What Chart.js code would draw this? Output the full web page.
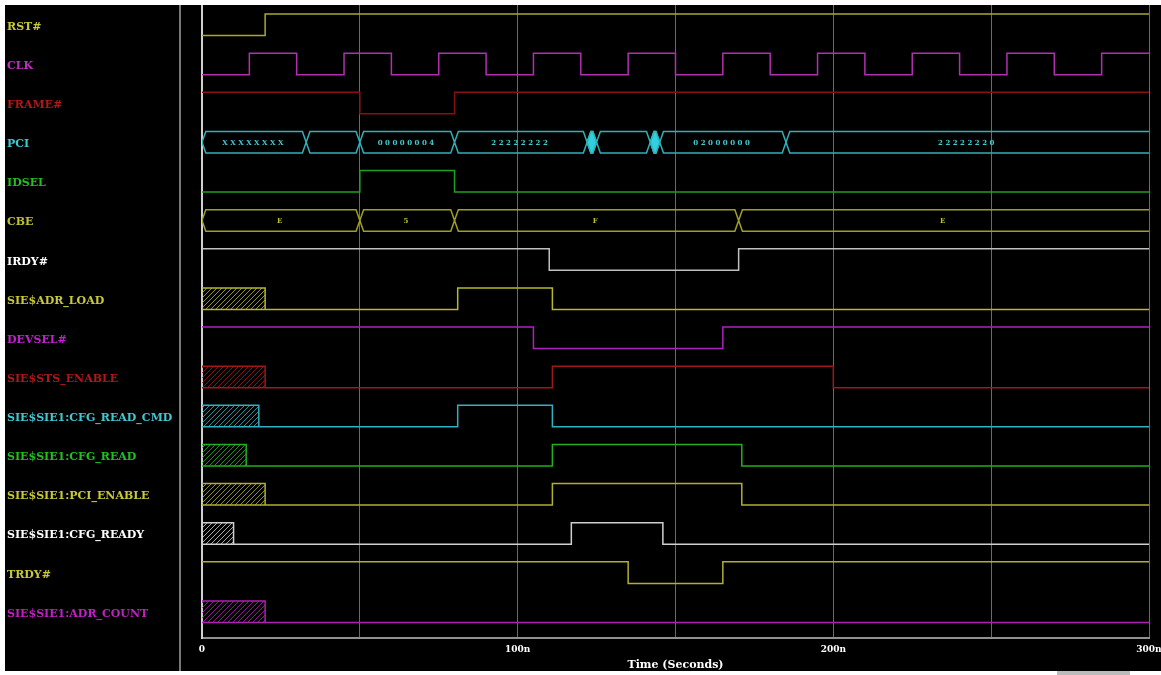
<!DOCTYPE html>
<html>
<head>
<meta charset="utf-8">
<script src="https://cdn.jsdelivr.net/npm/chart.js@4.4.0/dist/chart.umd.min.js"></script>
<style>
html, body { margin: 0; padding: 0; background: #000; }
#wrap { position: relative; width: 1161px; height: 675px; background: #000; overflow: hidden; }
#wave { position: absolute; left: 0; top: 0; }
.strip { position: absolute; background: #fff; }
</style>
</head>
<body>
<div id="wrap">
    <canvas id="wave" width="1161" height="675"></canvas>
    <div class="strip" style="left:0;top:0;width:1161px;height:5px"></div>
    <div class="strip" style="left:0;top:0;width:5px;height:675px"></div>
    <div class="strip" style="left:0;top:671px;width:1161px;height:4px"></div>
    <div style="position:absolute;left:179px;top:5px;width:2px;height:666px;background:#777"></div>
    <div style="position:absolute;left:1057px;top:671px;width:73px;height:4px;background:#bbb"></div>
</div>
<script>
// signal rows, top to bottom
const signalNames = [
    'RST#', 'CLK', 'FRAME#', 'PCI', 'IDSEL', 'CBE', 'IRDY#', 'SIE$ADR_LOAD',
    'DEVSEL#', 'SIE$STS_ENABLE', 'SIE$SIE1:CFG_READ_CMD', 'SIE$SIE1:CFG_READ',
    'SIE$SIE1:PCI_ENABLE', 'SIE$SIE1:CFG_READY', 'TRDY#', 'SIE$SIE1:ADR_COUNT'
];
const lineColors = [
    '#a8a830', '#b030b0', '#8a1010', '#30b0b8', '#20a020', '#a0a020', '#c0c0c0', '#b8b830',
    '#b020c0', '#a01818', '#30b0c0', '#20b020', '#b0b030', '#d0d0d0', '#b0b030', '#b020b0'
];
const labelColors = [
    '#c8c838', '#c030c0', '#b01818', '#40c8d0', '#20c020', '#c0c030', '#ffffff', '#c8c838',
    '#c020d0', '#b01818', '#40c8d0', '#20c020', '#c8c838', '#ffffff', '#c8c838', '#c020c0'
];

// step signals: edge times (ns) and level after each edge (1 = high)
const rstT = [0, 20, 300];              const rstV = [0, 1, 1];
const clkT = [0, 15, 30, 45, 60, 75, 90, 105, 120, 135, 150, 165, 180, 195, 210, 225, 240, 255, 270, 285, 300];
const clkV = [0, 1, 0, 1, 0, 1, 0, 1, 0, 1, 0, 1, 0, 1, 0, 1, 0, 1, 0, 1, 1];
const frameT = [0, 50, 80, 300];        const frameV = [1, 0, 1, 1];
const idselT = [0, 50, 80, 300];        const idselV = [0, 1, 0, 0];
const irdyT = [0, 110, 170, 300];       const irdyV = [1, 0, 1, 1];
const adrLoadT = [0, 81, 111, 300];     const adrLoadV = [0, 1, 0, 0];
const devselT = [0, 105, 165, 300];     const devselV = [1, 0, 1, 1];
const stsEnT = [0, 111, 200, 300];      const stsEnV = [0, 1, 0, 0];
const cfgCmdT = [0, 81, 111, 300];      const cfgCmdV = [0, 1, 0, 0];
const cfgReadT = [0, 111, 171, 300];    const cfgReadV = [0, 1, 0, 0];
const pciEnT = [0, 111, 171, 300];      const pciEnV = [0, 1, 0, 0];
const cfgReadyT = [0, 117, 146, 300];   const cfgReadyV = [0, 1, 0, 0];
const trdyT = [0, 135, 165, 300];       const trdyV = [1, 0, 1, 1];
const adrCountT = [0, 300];             const adrCountV = [0, 0];

// hatched (unknown) span at start of sim: row -> end time
const unknownRows = [7, 9, 10, 11, 12, 13, 15];
const unknownEnd = [20, 20, 18, 14, 20, 10, 20];

// buses
const pciEdges = [0, 33, 50, 80, 122, 125, 142, 145, 185, 300];
const pciValues = ['XXXXXXXX', '', '00000004', '22222222', '', '', '', '02000000', '22222220'];
const pciBusy = [[122, 125], [142, 145]];
const cbeEdges = [0, 50, 80, 170, 300];
const cbeValues = ['E', '5', 'F', 'E'];

const xTickValues = [0, 50, 100, 150, 200, 250, 300];
const xTickLabels = ['0', '', '100n', '', '200n', '', '300n'];

const HI = 0.18, LO = 0.73, MID = 0.455, XW = 1.2;

const steps = [
    [0, rstT, rstV], [1, clkT, clkV], [2, frameT, frameV], [4, idselT, idselV],
    [6, irdyT, irdyV], [7, adrLoadT, adrLoadV], [8, devselT, devselV], [9, stsEnT, stsEnV],
    [10, cfgCmdT, cfgCmdV], [11, cfgReadT, cfgReadV], [12, pciEnT, pciEnV],
    [13, cfgReadyT, cfgReadyV], [14, trdyT, trdyV], [15, adrCountT, adrCountV]
];
const buses = [
    { row: 3, edges: pciEdges, values: pciValues },
    { row: 5, edges: cbeEdges, values: cbeValues }
];

function hatch(color) {
    const c = document.createElement('canvas');
    c.width = 5; c.height = 5;
    const g = c.getContext('2d');
    g.strokeStyle = color;
    g.globalAlpha = 0.8;
    g.lineWidth = 1;
    g.beginPath();
    g.moveTo(0, 5); g.lineTo(5, 0);
    g.moveTo(-1, 1); g.lineTo(1, -1);
    g.moveTo(4, 6); g.lineTo(6, 4);
    g.stroke();
    return g.createPattern(c, 'repeat');
}

function busOutline(row, edges, level) {
    const pts = [{ x: edges[0], y: row + MID }];
    for (let i = 0; i < edges.length - 1; i++) {
        const s = edges[i], e = edges[i + 1];
        pts.push({ x: s + XW, y: row + level });
        if (i === edges.length - 2) {
            pts.push({ x: e, y: row + level });
        } else {
            pts.push({ x: e - XW, y: row + level });
            pts.push({ x: e, y: row + MID });
        }
    }
    return pts;
}

const datasets = [];
steps.forEach(([row, T, V]) => {
    datasets.push({
        data: T.map((t, i) => ({ x: t, y: row + (V[i] ? HI : LO) })),
        borderColor: lineColors[row],
        stepped: true
    });
});
unknownRows.forEach((row, i) => {
    const end = unknownEnd[i];
    datasets.push({
        data: [{ x: 0, y: row + HI }, { x: end, y: row + HI }, { x: end, y: row + LO }],
        borderColor: lineColors[row],
        backgroundColor: hatch(lineColors[row]),
        fill: { value: row + LO }
    });
});
buses.forEach(b => {
    datasets.push({ data: busOutline(b.row, b.edges, HI), borderColor: lineColors[b.row] });
    datasets.push({ data: busOutline(b.row, b.edges, LO), borderColor: lineColors[b.row] });
});
pciBusy.forEach(([s, e]) => {
    const col = '#30d0e0';
    datasets.push({
        data: [{ x: s, y: 3 + MID }, { x: s + XW, y: 3 + HI }, { x: e - XW, y: 3 + HI }, { x: e, y: 3 + MID }],
        borderColor: col, backgroundColor: col, fill: '+1'
    });
    datasets.push({
        data: [{ x: s, y: 3 + MID }, { x: s + XW, y: 3 + LO }, { x: e - XW, y: 3 + LO }, { x: e, y: 3 + MID }],
        borderColor: col
    });
});

const busText = {
    id: 'busText',
    afterDatasetsDraw(chart) {
        const { ctx, scales: { x, y } } = chart;
        ctx.save();
        ctx.font = 'bold 7px "DejaVu Serif"';
        ctx.textAlign = 'center';
        ctx.textBaseline = 'middle';
        ctx.letterSpacing = '2.5px';
        buses.forEach(b => {
            ctx.fillStyle = labelColors[b.row];
            b.values.forEach((v, i) => {
                if (!v) return;
                const cx = x.getPixelForValue((b.edges[i] + b.edges[i + 1]) / 2);
                ctx.fillText(v, cx, y.getPixelForValue(b.row + MID) + 0.5);
            });
        });
        ctx.restore();
    }
};

new Chart(document.getElementById('wave'), {
    type: 'line',
    data: { datasets: datasets },
    options: {
        responsive: false,
        animation: false,
        events: [],
        layout: { padding: { left: 7, top: 5, right: 12, bottom: 0 } },
        elements: {
            point: { radius: 0 },
            line: { borderWidth: 1.5, tension: 0, fill: false }
        },
        plugins: { legend: { display: false }, tooltip: { enabled: false } },
        scales: {
            x: {
                type: 'linear',
                min: 0,
                max: 300,
                afterBuildTicks: s => { s.ticks = xTickValues.map(v => ({ value: v })); },
                afterFit: s => { s.height = 37; s.paddingLeft = 0; s.paddingRight = 0; },
                ticks: {
                    autoSkip: false,
                    maxRotation: 0,
                    padding: 6,
                    color: '#ffffff',
                    font: { family: 'DejaVu Serif', size: 9, weight: 'bold' },
                    callback: (v, i) => xTickLabels[i]
                },
                grid: {
                    drawTicks: false,
                    color: c => (c.tick && c.tick.value === 0) ? '#d0d0d0' : '#6a6a6a',
                    lineWidth: c => (c.tick && c.tick.value === 0) ? 2 : 1
                },
                border: { display: true, color: '#909090', width: 2 },
                title: {
                    display: true,
                    text: 'Time (Seconds)',
                    color: '#ffffff',
                    font: { family: 'DejaVu Serif', size: 11, weight: 'bold' },
                    padding: { top: 0, bottom: 3 }
                }
            },
            y: {
                type: 'linear',
                reverse: true,
                min: -0.051,
                max: 16.126,
                afterBuildTicks: s => { s.ticks = signalNames.map((n, i) => ({ value: i + 0.51 })); },
                afterFit: s => { s.width = 195; s.paddingTop = 0; s.paddingBottom = 0; },
                ticks: {
                    autoSkip: false,
                    crossAlign: 'far',
                    color: c => labelColors[c.index],
                    font: { family: 'DejaVu Serif', size: 11, weight: 'bold' },
                    callback: (v, i) => signalNames[i]
                },
                grid: { display: false },
                border: { display: true, color: '#d0d0d0', width: 2 }
            }
        }
    },
    plugins: [busText]
});
</script>
</body>
</html>
